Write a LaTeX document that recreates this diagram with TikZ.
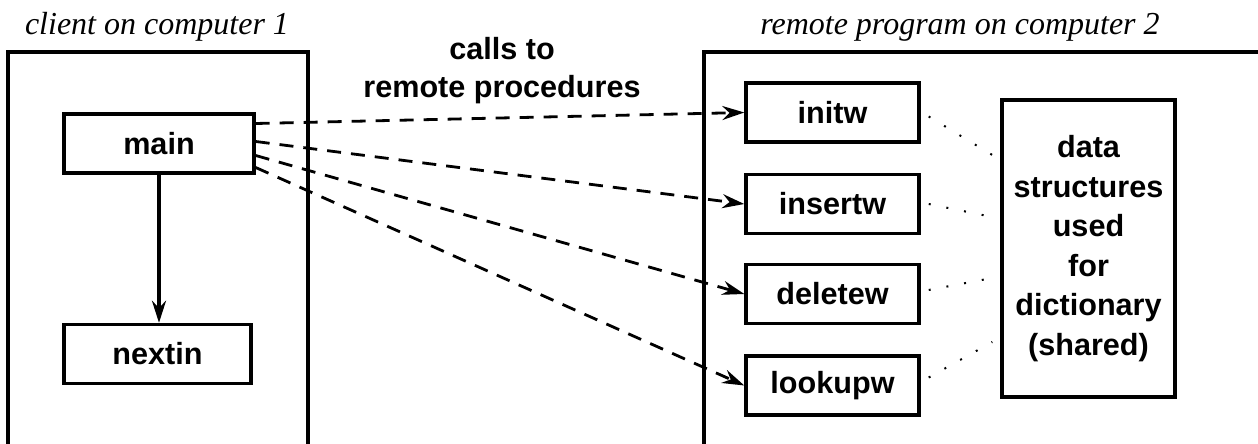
\documentclass[tikz,border=0pt]{standalone}
\usepackage{fontspec}
\setmainfont{Liberation Serif}
\setsansfont{Liberation Sans}
\usetikzlibrary{positioning, arrows.meta}

\tikzset{
  proc/.style={draw, line width=1.7pt, minimum width=86.5pt, minimum height=29.5pt,
    inner sep=0pt, font=\sffamily\bfseries\fontsize{15.3}{19.75}\selectfont},
  call/.style={-{Stealth[length=11pt,width=7pt]}, line width=1.4pt, dash pattern=on 7pt off 5pt},
  share/.style={line width=1pt, dash pattern=on 1pt off 8pt},
  frame/.style={line width=1.6pt},
  caption/.style={font=\itshape\fontsize{16}{18}\selectfont},
}

\begin{document}
\begin{tikzpicture}[x=0.5pt,y=-0.5pt]
  \useasboundingbox (0,0) rectangle (1258,444);
  % the two computers
  \draw[frame] (8,444) -- (8,52) -- (308,52) -- (308,444);
  \draw[frame] (1258,52) -- (704,52) -- (704,444);
  \node[caption] (cl) at (157,27) {client on computer 1};
  \node[caption] (rp) at (960,27) {remote program on computer 2};

  % client side
  \node[proc, minimum width=95pt] (main) at (159,143.5) {main};
  \node[proc, minimum width=93.5pt] (nextin) at (157.5,354) {nextin};
  \draw[-{Stealth[length=11pt,width=7pt]}, line width=1.7pt] (main.south) -- (main.south |- nextin.north);

  % server side
  \foreach \n/\y in {initw/112.5, insertw/204, deletew/294, lookupw/385.5}
    \node[proc] (\n) at (832.5,\y) {\n};
  \node[proc, minimum height=148.5pt, align=center, text width=80pt] (dict) at (1088.5,248.5)
    {data\\structures\\used\\for\\dictionary\\(shared)};

  \node[font=\sffamily\bfseries\fontsize{15.3}{19}\selectfont, align=center] (calls) at (502,71)
    {calls to\\remote procedures};

  % calls
  \foreach \n/\s in {initw/10pt, insertw/1pt, deletew/-6pt, lookupw/-12pt}
    \draw[call] ([yshift=\s]main.east) -- (\n.west);
  % shared data
  \foreach \n/\a/\b in {initw/-2pt/46.75pt, insertw/0pt/15.75pt, deletew/2pt/-14.75pt, lookupw/4pt/-46.75pt}
    \draw[share] ([xshift=4pt,yshift=\a]\n.east) -- ([xshift=-4pt,yshift=\b]dict.west);
\end{tikzpicture}
\end{document}
